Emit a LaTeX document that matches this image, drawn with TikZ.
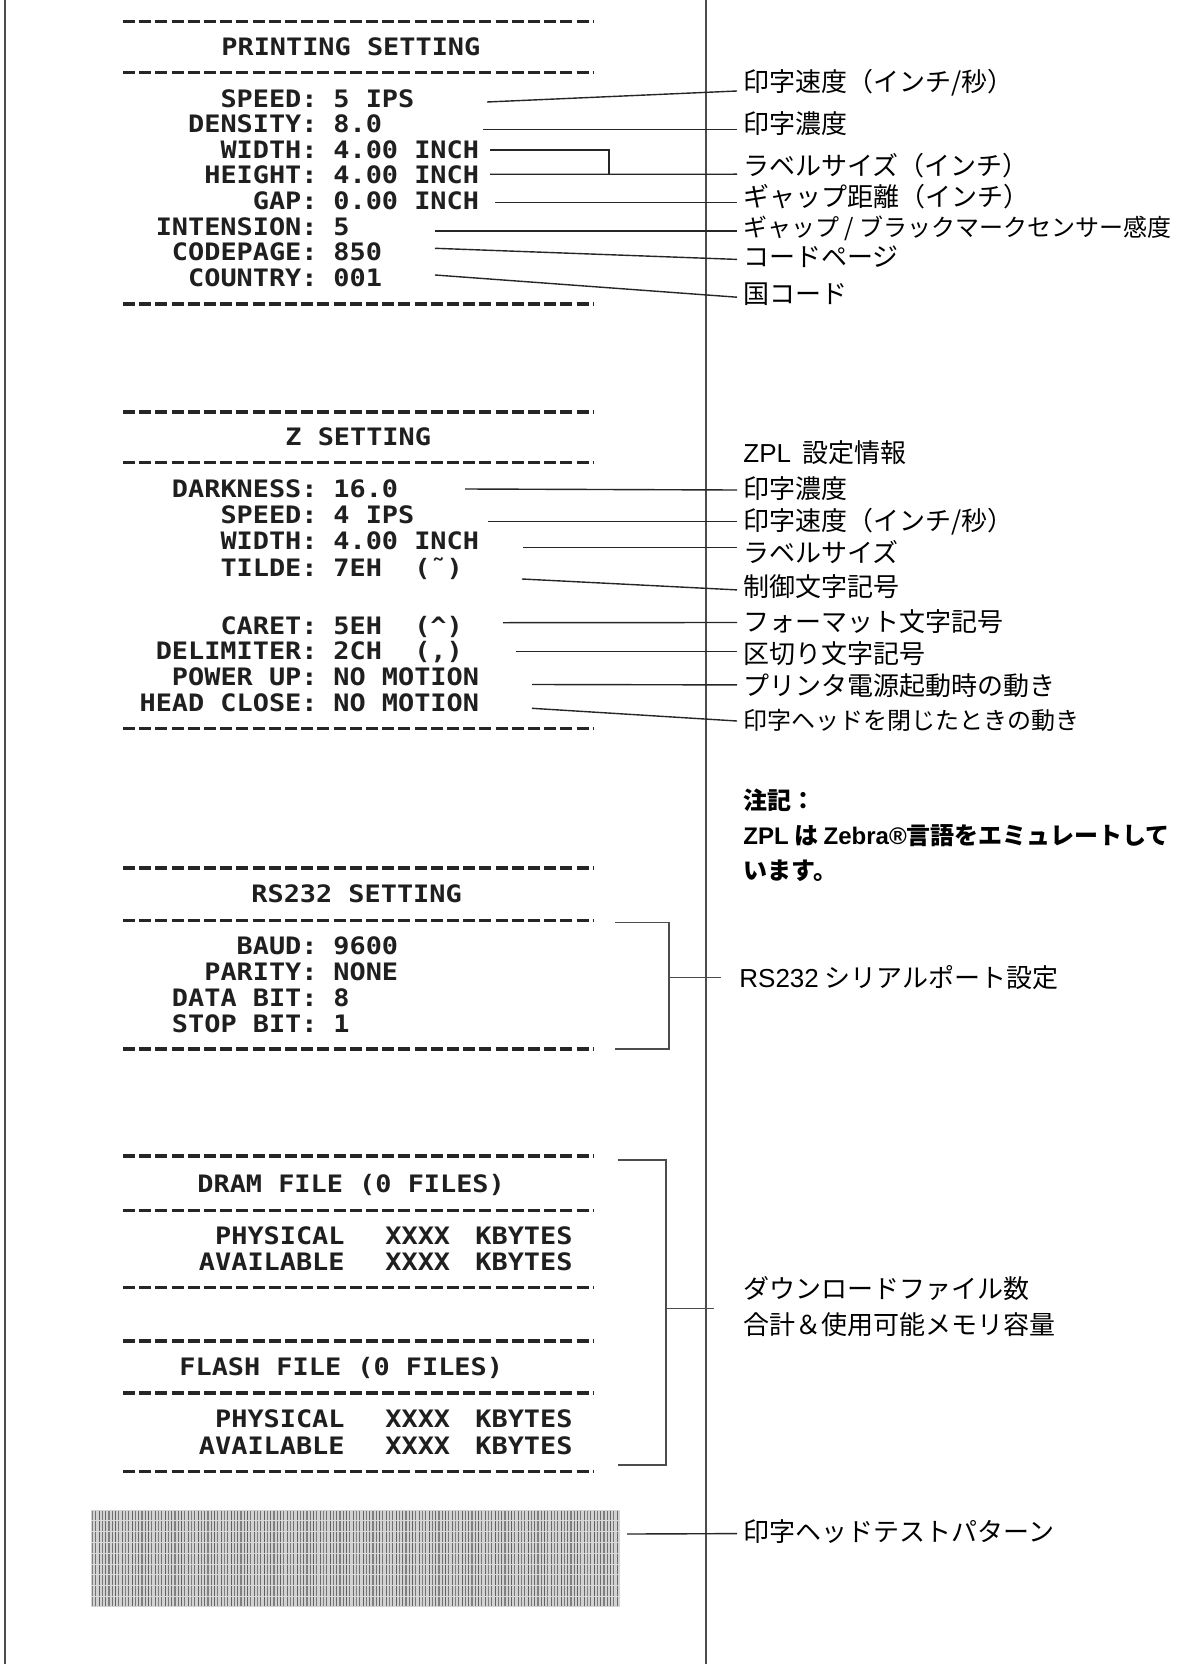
\documentclass[tikz,border=0pt]{standalone}
\usepackage{fontspec}
\newfontfamily\rcpt[FakeStretch=1.12]{DejaVu Sans Mono}
\newfontfamily\jpf{Noto Sans CJK JP}
\newfontfamily\latf{Liberation Sans}
\begin{document}
\begin{tikzpicture}[x=0.5pt,y=-0.5pt,
  rc/.style={font=\rcpt\bfseries\fontsize{12}{14}\selectfont, inner sep=0pt, text=black!88},
  rcl/.style={rc, anchor=base east},
  rcv/.style={rc, anchor=base west},
  lab/.style={font=\jpf\fontsize{13}{18}\selectfont, anchor=west, inner xsep=3pt, inner ysep=0pt, align=left},
  labs/.style={lab, font=\jpf\fontsize{12}{18}\selectfont},
  note/.style={lab, font=\jpf\bfseries\fontsize{12}{17.5}\selectfont},
  con/.style={line width=0.7pt, black!85},
  brk/.style={line width=0.75pt, black!70},
  dsh/.style={line width=1.7pt, black!85, dash pattern=on 6pt off 2.1pt},
  frm/.style={line width=0.8pt, black!70}]

\fill[white] (0,0) rectangle (1192,1664);
\useasboundingbox (0,0) rectangle (1192,1664);

% frame lines
\draw[frm] (5,0) -- (5,1664);
\draw[frm] (706,0) -- (706,1664);

% ---------------- PRINTING SETTING ----------------
\draw[dsh] (123,21.7) -- (594,21.7);
\node[rcv] (pt) at (221,55.7) {PRINTING SETTING};
\draw[dsh] (123,72.3) -- (594,72.3);
\node[rcl] (pk1) at (318,107.7) {SPEED:};     \node[rcv] (pv1) at (333,107.7) {5 IPS};
\node[rcl] (pk2) at (318,132.7) {DENSITY:};   \node[rcv] (pv2) at (333,132.7) {8.0};
\node[rcl] (pk3) at (318,158.7) {WIDTH:};     \node[rcv] (pv3) at (333,158.7) {4.00 INCH};
\node[rcl] (pk4) at (318,183.7) {HEIGHT:};    \node[rcv] (pv4) at (333,183.7) {4.00 INCH};
\node[rcl] (pk5) at (318,209.7) {GAP:};       \node[rcv] (pv5) at (333,209.7) {0.00 INCH};
\node[rcl] (pk6) at (318,235.7) {INTENSION:}; \node[rcv] (pv6) at (333,235.7) {5};
\node[rcl] (pk7) at (318,260.7) {CODEPAGE:};  \node[rcv] (pv7) at (333,260.7) {850};
\node[rcl] (pk8) at (318,286.7) {COUNTRY:};   \node[rcv] (pv8) at (333,286.7) {001};
\draw[dsh] (123,304) -- (594,304);

\node[lab]  (L1) at (737,83)  {印字速度（インチ/秒）};
\node[lab]  (L2) at (737,124) {印字濃度};
\node[lab]  (L3) at (737,166) {ラベルサイズ（インチ）};
\node[lab]  (L4) at (737,197) {ギャップ距離（インチ）};
\node[labs] (L5) at (737,228) {ギャップ / ブラックマークセンサー感度};
\node[lab]  (L6) at (737,257) {コードページ};
\node[lab]  (L7) at (737,294) {国コード};

\coordinate (a1) at (487,102);
\coordinate (a2) at (483,129.5);
\coordinate (a3) at (490,150);
\coordinate (a3j) at (609,174.3);
\coordinate (a4) at (490,174.3);
\coordinate (a5) at (495,202.5);
\coordinate (a6) at (435,231);
\coordinate (a7) at (435,248.3);
\coordinate (a8) at (435,275);
\draw[con] (a1) -- ([yshift=-4pt]L1.west);
\draw[con] (a2) -- ([yshift=-2.75pt]L2.west);
\draw[con] (a3) -| (a3j);
\draw[con] (a4) -- ([yshift=-4.1pt]L3.west);
\draw[con] (a5) -- ([yshift=-2.75pt]L4.west);
\draw[con] (a6) -- ([yshift=-1.5pt]L5.west);
\draw[con] (a7) -- ([yshift=-1.2pt]L6.west);
\draw[con] (a8) -- ([yshift=-1.6pt]L7.west);

% ---------------- Z SETTING ----------------
\draw[dsh] (123,412) -- (594,412);
\node[rcv] (zt) at (285,445.7) {Z SETTING};
\draw[dsh] (123,462.7) -- (594,462.7);
\node[rcl] (zk1) at (318,497.7) {DARKNESS:};   \node[rcv] (zv1) at (333,497.7) {16.0};
\node[rcl] (zk2) at (318,523.7) {SPEED:};      \node[rcv] (zv2) at (333,523.7) {4 IPS};
\node[rcl] (zk3) at (318,549.7) {WIDTH:};      \node[rcv] (zv3) at (333,549.7) {4.00 INCH};
\node[rcl] (zk4) at (318,576)   {TILDE:};      \node[rcv] (zv4) at (333,576)   {7EH\ \ (\symbol{"02DC})};
\node[rcl] (zk5) at (318,634.4) {CARET:};      \node[rcv] (zv5) at (333,634.4) {5EH\ \ (\textasciicircum)};
\node[rcl] (zk6) at (318,659.7) {DELIMITER:};  \node[rcv] (zv6) at (333,659.7) {2CH\ \ (,)};
\node[rcl] (zk7) at (318,685.4) {POWER UP:};   \node[rcv] (zv7) at (333,685.4) {NO MOTION};
\node[rcl] (zk8) at (318,711)   {HEAD CLOSE:}; \node[rcv] (zv8) at (333,711)   {NO MOTION};
\draw[dsh] (123,728.3) -- (594,728.3);

\node[lab]  (Z0) at (737,453)   {{\latf ZPL}\ \ 設定情報};
\node[lab]  (Z1) at (737,488.5) {印字濃度};
\node[lab]  (Z2) at (737,521.7) {印字速度（インチ/秒）};
\node[lab]  (Z3) at (737,551.7) {ラベルサイズ};
\node[lab]  (Z4) at (737,586.7) {制御文字記号};
\node[lab]  (Z5) at (737,621.7) {フォーマット文字記号};
\node[lab]  (Z6) at (737,653.3) {区切り文字記号};
\node[lab]  (Z7) at (737,685.7) {プリンタ電源起動時の動き};
\node[labs] (Z8) at (737,720)   {印字ヘッドを閉じたときの動き};

\coordinate (b1) at (465,489);
\coordinate (b2) at (488,521.7);
\coordinate (b3) at (523,547.7);
\coordinate (b4) at (522,579);
\coordinate (b5) at (503,622.7);
\coordinate (b6) at (516,651.7);
\coordinate (b7) at (532,684.5);
\coordinate (b8) at (532,708.3);
\draw[con] (b1) -- ([yshift=-0.75pt]Z1.west);
\draw[con] (b2) -- (Z2.west);
\draw[con] (b3) -- ([yshift=2pt]Z3.west);
\draw[con] (b4) -- ([yshift=-1.6pt]Z4.west);
\draw[con] (b5) -- ([yshift=-0.4pt]Z5.west);
\draw[con] (b6) -- ([yshift=0.8pt]Z6.west);
\draw[con] (b7) -- ([yshift=0.4pt]Z7.west);
\draw[con] (b8) -- ([yshift=-0.5pt]Z8.west);

% note
\node[note] (N) at (737,835) {注記：\\{\latf\bfseries ZPL} は {\latf\bfseries Zebra®}言語をエミュレートして\\います。};

% ---------------- RS232 SETTING ----------------
\draw[dsh] (123,868) -- (594,868);
\node[rcv] (rt) at (251,902.7) {RS232 SETTING};
\draw[dsh] (123,920.5) -- (594,920.5);
\node[rcl] (rk1) at (318,954.7)  {BAUD:};     \node[rcv] (rv1) at (333,954.7)  {9600};
\node[rcl] (rk2) at (318,980.7)  {PARITY:};   \node[rcv] (rv2) at (333,980.7)  {NONE};
\node[rcl] (rk3) at (318,1006.2) {DATA BIT:}; \node[rcv] (rv3) at (333,1006.2) {8};
\node[rcl] (rk4) at (318,1032.2) {STOP BIT:}; \node[rcv] (rv4) at (333,1032.2) {1};
\draw[dsh] (123,1049) -- (594,1049);

\node[lab] (RS) at (733,978) {{\latf RS232} シリアルポート設定};
\draw[brk] (615,922.5) -- (669,922.5) -- (669,1049) -- (615,1049);
\coordinate (rsm) at (669,977.5);
\coordinate (rse) at (721,977.5);
\draw[brk] (rsm) -- (rse);

% ---------------- DRAM / FLASH ----------------
\draw[dsh] (123,1156) -- (594,1156);
\node[rcv] (dt) at (197,1192.7) {DRAM FILE (0 FILES)};
\draw[dsh] (123,1210.5) -- (594,1210.5);
\node[rcl] (dk1) at (345,1244.2) {PHYSICAL};  \node[rcv] (dx1) at (385,1244.2) {XXXX}; \node[rcv] (du1) at (475,1244.2) {KBYTES};
\node[rcl] (dk2) at (345,1270.7) {AVAILABLE}; \node[rcv] (dx2) at (385,1270.7) {XXXX}; \node[rcv] (du2) at (475,1270.7) {KBYTES};
\draw[dsh] (123,1287.5) -- (594,1287.5);

\draw[dsh] (123,1341) -- (594,1341);
\node[rcv] (ft) at (179,1375.7) {FLASH FILE (0 FILES)};
\draw[dsh] (123,1393) -- (594,1393);
\node[rcl] (fk1) at (345,1427.7) {PHYSICAL};  \node[rcv] (fx1) at (385,1427.7) {XXXX}; \node[rcv] (fu1) at (475,1427.7) {KBYTES};
\node[rcl] (fk2) at (345,1454.2) {AVAILABLE}; \node[rcv] (fx2) at (385,1454.2) {XXXX}; \node[rcv] (fu2) at (475,1454.2) {KBYTES};
\draw[dsh] (123,1471.5) -- (594,1471.5);

\node[lab] (DL) at (737,1307) {ダウンロードファイル数\\合計＆使用可能メモリ容量};
\draw[brk] (617.5,1160) -- (666,1160) -- (666,1465) -- (617.5,1465);
\coordinate (dm) at (666,1308.5);
\coordinate (dme) at (714,1308.5);
\draw[brk] (dm) -- (dme);

% ---------------- test pattern ----------------
\fill[gray!35] (91,1510) rectangle (620,1607);
\foreach \i in {0,...,159} {
  \pgfmathsetmacro{\shade}{50+12*mod(\i*7,5)/4}
  \draw[black!\shade, line width=0.55pt] ({92.5+\i*3.3},1511) -- ({92.5+\i*3.3},1606);
}
\foreach \j in {1,...,8} {
  \draw[white!70!gray, line width=0.35pt] (91,{1510+\j*10.8}) -- (620,{1510+\j*10.8});
}
\node[lab] (TP) at (737,1531.6) {印字ヘッドテストパターン};
\coordinate (tp) at (627,1534);
\draw[con] (tp) -- ([yshift=-1pt]TP.west);

\end{tikzpicture}
\end{document}
